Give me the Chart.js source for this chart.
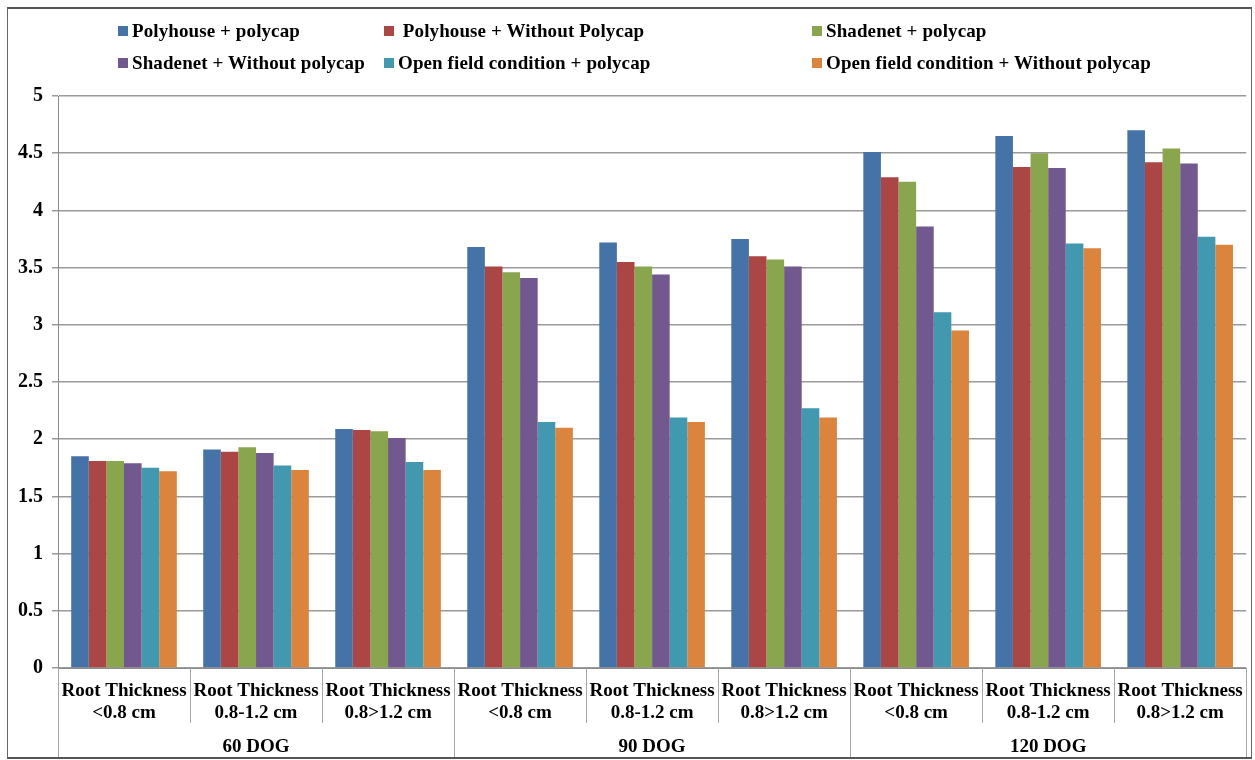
<!DOCTYPE html>
<html>
<head>
<meta charset="utf-8">
<script src="https://cdn.jsdelivr.net/npm/chart.js@4"></script>
<style>
  body { margin: 0; background: #fff; }
  #wrap { position: relative; width: 1255px; height: 760px; }
  #frame { position: absolute; left: 7px; top: 7px; width: 1245px; height: 752px; border: 1px solid #666; border-top: 2px solid #555; border-bottom: 2px solid #555; box-sizing: border-box; pointer-events: none; }
  canvas { position: absolute; left: 0; top: 0; }
  .leg { position: absolute; font: bold 19px "Liberation Serif", serif; color: #000; white-space: nowrap; line-height: 22px; letter-spacing: 0.1px; }
  .leg i { display: inline-block; width: 10px; height: 10px; margin-right: 4px; vertical-align: 1px; }
</style>
</head>
<body>
<div id="wrap">
  <canvas id="myChart" width="1255" height="760"></canvas>
  <div id="legend"></div>
  <div id="frame"></div>
</div>
<script>
const groups = ['60 DOG', '90 DOG', '120 DOG'];
const thickness = ['<0.8 cm', '0.8-1.2 cm', '0.8>1.2 cm'];
const categories = [];
groups.forEach(() => thickness.forEach(t => categories.push(['Root Thickness', t])));

const seriesNames = [
	'Polyhouse + polycap',
	' Polyhouse + Without Polycap',
	'Shadenet + polycap',
	'Shadenet + Without polycap',
	'Open field condition + polycap',
	'Open field condition + Without polycap'
];
const seriesColors = ['#4572A7', '#AA4643', '#89A54E', '#71588F', '#4198AF', '#DB843D'];

const polyhousePolycap   = [1.85, 1.91, 2.09, 3.68, 3.72, 3.75, 4.51, 4.65, 4.70];
const polyhouseWithout   = [1.81, 1.89, 2.08, 3.51, 3.55, 3.60, 4.29, 4.38, 4.42];
const shadenetPolycap    = [1.81, 1.93, 2.07, 3.46, 3.51, 3.57, 4.25, 4.50, 4.54];
const shadenetWithout    = [1.79, 1.88, 2.01, 3.41, 3.44, 3.51, 3.86, 4.37, 4.41];
const openFieldPolycap   = [1.75, 1.77, 1.80, 2.15, 2.19, 2.27, 3.11, 3.71, 3.77];
const openFieldWithout   = [1.72, 1.73, 1.73, 2.10, 2.15, 2.19, 2.95, 3.67, 3.70];
const seriesValues = [polyhousePolycap, polyhouseWithout, shadenetPolycap, shadenetWithout, openFieldPolycap, openFieldWithout];

const yTicks = [0, 0.5, 1, 1.5, 2, 2.5, 3, 3.5, 4, 4.5, 5];

const FONT = '"Liberation Serif", "Times New Roman", serif';

// legend laid out as a 3 column grid, like the original
const legendPos = [[118, 20], [384, 20], [812, 20], [118, 52], [384, 52], [812, 52]];
const legendEl = document.getElementById('legend');
seriesNames.forEach((name, i) => {
	const d = document.createElement('div');
	d.className = 'leg';
	d.style.left = legendPos[i][0] + 'px';
	d.style.top = legendPos[i][1] + 'px';
	d.innerHTML = '<i style="background:' + seriesColors[i] + '"></i>';
	d.appendChild(document.createTextNode(name));
	legendEl.appendChild(d);
});

const separators = {
	id: 'separators',
	afterDraw(chart) {
		const x = chart.scales.x;
		const area = chart.chartArea;
		const ctx = chart.ctx;
		const n = categories.length;
		ctx.save();
		ctx.strokeStyle = '#a6a6a6';
		ctx.lineWidth = 1;
		for (let i = 0; i <= n; i++) {
			let px;
			if (i === 0) px = x.left;
			else if (i === n) px = x.right;
			else px = (x.getPixelForValue(i - 1) + x.getPixelForValue(i)) / 2;
			px = Math.round(px) + 0.5;
			const bottom = (i % 3 === 0) ? 758 : 723;
			ctx.beginPath();
			ctx.moveTo(px, area.bottom);
			ctx.lineTo(px, bottom);
			ctx.stroke();
		}
		ctx.fillStyle = '#000';
		ctx.font = 'bold 19px ' + FONT;
		ctx.textAlign = 'center';
		ctx.textBaseline = 'middle';
		groups.forEach((g, gi) => {
			const cx = (x.getPixelForValue(gi * 3) + x.getPixelForValue(gi * 3 + 2)) / 2;
			ctx.fillText(g, cx, 747);
		});
		ctx.restore();
	}
};

const ctx = document.getElementById('myChart').getContext('2d');
const myChart = new Chart(ctx, {
	type: 'bar',
	data: {
		labels: categories,
		datasets: seriesNames.map((name, i) => ({
			label: name,
			data: seriesValues[i],
			backgroundColor: seriesColors[i],
			borderWidth: 0,
			categoryPercentage: 0.8,
			barPercentage: 1.0
		}))
	},
	options: {
		responsive: false,
		animation: false,
		layout: { padding: { top: 96, left: 0, right: 5, bottom: 2 } },
		plugins: {
			legend: { display: false },
			tooltip: { enabled: false }
		},
		scales: {
			x: {
				grid: { display: false, drawTicks: false },
				border: { display: true, color: '#8c8c8c', width: 1 },
				ticks: {
					color: '#000',
					font: { family: FONT, size: 19, weight: 'bold', lineHeight: 1.15 },
					padding: 12,
					maxRotation: 0,
					autoSkip: false
				},
				afterFit: s => { s.height = 90; }
			},
			y: {
				min: 0,
				max: 5,
				afterBuildTicks: s => { s.ticks = yTicks.map(v => ({ value: v })); },
				grid: { color: '#9a9a9a', lineWidth: 1.5, tickLength: 6 },
				border: { display: true, color: '#8c8c8c', width: 1 },
				ticks: {
					color: '#000',
					font: { family: FONT, size: 20, weight: 'bold' },
					padding: 9,
					callback: v => String(v)
				},
				afterFit: s => { s.width = 58; }
			}
		}
	},
	plugins: [separators]
});
</script>
</body>
</html>
